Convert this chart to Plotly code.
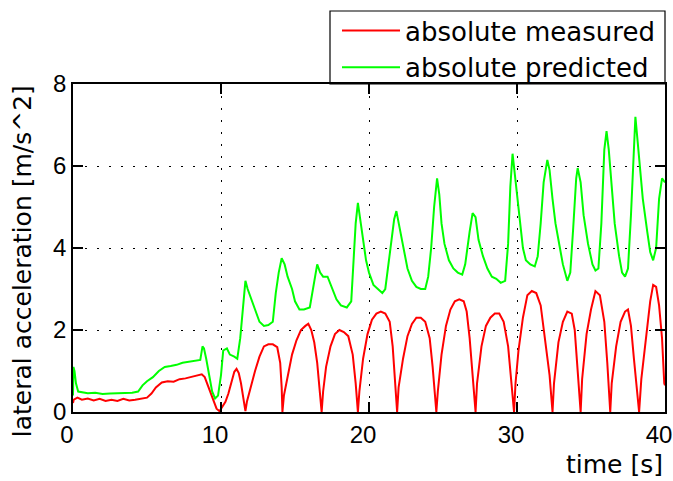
import plotly.graph_objects as go

# ---- data ----
t_measured = [0.0, 0.05, 0.3, 0.6, 1.0, 1.4, 1.8, 2.2, 2.6, 3.0, 3.4, 3.8, 4.2, 4.6, 5.0, 5.3, 5.6,
              6.0, 6.4, 6.8, 7.2, 7.6, 8.0, 8.4, 8.7, 8.9, 9.1, 9.3, 9.5, 9.7, 9.9, 10.1, 10.3, 10.5,
              10.7, 10.9, 11.05, 11.2, 11.35, 11.5, 11.65, 11.75, 12.0, 12.3, 12.6, 12.9, 13.2, 13.5,
              13.8, 14.0, 14.1, 14.15, 14.25, 14.5, 14.8, 15.1, 15.4, 15.7, 15.9, 16.1, 16.3, 16.5,
              16.7, 16.8, 16.9, 17.1, 17.4, 17.7, 18.0, 18.3, 18.6, 18.9, 19.1, 19.25, 19.35, 19.6,
              19.9, 20.2, 20.5, 20.8, 21.1, 21.4, 21.6, 21.8, 21.9, 22.0, 22.3, 22.6, 22.9, 23.2,
              23.5, 23.8, 24.1, 24.3, 24.45, 24.55, 24.65, 24.9, 25.2, 25.5, 25.8, 26.1, 26.4, 26.6,
              26.8, 27.0, 27.2, 27.3, 27.6, 27.9, 28.2, 28.5, 28.8, 29.1, 29.4, 29.6, 29.8, 29.9,
              30.1, 30.4, 30.7, 31.0, 31.3, 31.6, 31.9, 32.2, 32.4, 32.5, 32.8, 33.1, 33.4, 33.7,
              33.9, 34.1, 34.3, 34.4, 34.7, 35.0, 35.3, 35.6, 35.9, 36.1, 36.3, 36.4, 36.7, 37.0,
              37.3, 37.5, 37.7, 37.9, 38.1, 38.25, 38.4, 38.7, 39.0, 39.2, 39.4, 39.6, 39.8, 39.95, 40.0]
a_measured = [0.22, 0.3, 0.35, 0.3, 0.33, 0.28, 0.32, 0.27, 0.3, 0.27, 0.32, 0.28, 0.3, 0.33, 0.35, 0.45, 0.6,
              0.72, 0.75, 0.74, 0.8, 0.82, 0.85, 0.88, 0.92, 0.85, 0.65, 0.45, 0.25, 0.08, 0.02, 0.12, 0.25, 0.45,
              0.75, 0.98, 1.05, 0.95, 0.7, 0.35, 0.02, 0.25, 0.6, 1.0, 1.35, 1.6, 1.65, 1.65,
              1.58, 1.2, 0.6, 0.0, 0.4, 0.9, 1.4, 1.75, 2.0, 2.1, 2.15, 2.0, 1.7, 1.2,
              0.5, 0.0, 0.5, 1.1, 1.6, 1.9, 2.0, 1.95, 1.85, 1.4, 0.7, 0.0, 0.5, 1.3,
              1.9, 2.25, 2.4, 2.45, 2.4, 2.2, 1.6, 0.6, 0.0, 0.6, 1.3, 1.85, 2.15, 2.3,
              2.3, 2.2, 1.8, 1.1, 0.4, 0.0, 0.5, 1.4, 2.1, 2.5, 2.7, 2.75, 2.7, 2.45,
              1.8, 0.9, 0.0, 0.7, 1.6, 2.1, 2.3, 2.4, 2.4, 2.2, 1.6, 0.8, 0.0, 0.7,
              1.5, 2.3, 2.85, 2.95, 2.9, 2.6, 1.8, 0.9, 0.0, 0.7, 1.7, 2.2, 2.45, 2.4,
              2.0, 1.1, 0.0, 0.8, 1.9, 2.5, 2.95, 2.85, 2.2, 1.2, 0.0, 0.7, 1.6, 2.2,
              2.45, 2.5, 2.1, 1.3, 0.5, 0.0, 0.8, 1.8, 2.7, 3.1, 3.05, 2.6, 1.8, 0.7, 0.65]

t_predicted = [0.0, 0.03, 0.1, 0.2, 0.35, 0.6, 1.0, 1.5, 2.0, 2.5, 3.0, 3.5, 4.0, 4.4, 4.7, 5.0, 5.4,
               5.8, 6.2, 6.6, 7.0, 7.4, 7.8, 8.2, 8.6, 8.75, 8.85, 9.0, 9.2, 9.4, 9.6, 9.8, 10.0,
               10.15, 10.4, 10.6, 10.9, 11.1, 11.3, 11.5, 11.65, 11.8, 12.0, 12.3, 12.6, 12.9, 13.2,
               13.5, 13.7, 13.9, 14.1, 14.3, 14.5, 14.8, 15.0, 15.3, 15.6, 16.0, 16.3, 16.5, 16.7,
               16.9, 17.2, 17.5, 17.8, 18.1, 18.5, 18.8, 18.95, 19.1, 19.25, 19.4, 19.6, 19.8, 20.0,
               20.3, 20.6, 20.9, 21.1, 21.3, 21.5, 21.7, 21.85, 22.0, 22.3, 22.6, 22.9, 23.2, 23.5,
               23.8, 24.0, 24.2, 24.4, 24.6, 24.75, 24.9, 25.1, 25.4, 25.7, 26.0, 26.3, 26.5, 26.8,
               27.0, 27.2, 27.4, 27.7, 28.0, 28.3, 28.6, 28.9, 29.2, 29.4, 29.55, 29.7, 29.85, 30.0,
               30.2, 30.4, 30.6, 30.9, 31.2, 31.4, 31.6, 31.8, 32.05, 32.2, 32.4, 32.6, 32.9, 33.1,
               33.4, 33.6, 33.8, 34.0, 34.1, 34.3, 34.5, 34.8, 35.1, 35.3, 35.5, 35.7, 35.9, 36.05,
               36.2, 36.4, 36.6, 36.9, 37.1, 37.3, 37.5, 37.7, 37.9, 38.0, 38.15, 38.3, 38.5, 38.8,
               39.0, 39.2, 39.4, 39.6, 39.8, 40.0]
a_predicted = [0.4, 1.1, 1.0, 0.7, 0.5, 0.48, 0.46, 0.47, 0.44, 0.45, 0.46, 0.47, 0.47, 0.5, 0.65, 0.75, 0.85,
               1.0, 1.1, 1.12, 1.15, 1.2, 1.22, 1.25, 1.27, 1.6, 1.55, 1.3, 0.9, 0.5, 0.33, 0.4, 0.9,
               1.5, 1.55, 1.4, 1.35, 1.3, 1.8, 2.6, 3.2, 3.0, 2.8, 2.5, 2.2, 2.1, 2.12,
               2.2, 2.9, 3.4, 3.75, 3.6, 3.3, 3.0, 2.7, 2.5, 2.5, 2.55, 3.2, 3.6, 3.4,
               3.3, 3.3, 3.0, 2.75, 2.6, 2.55, 2.7, 3.8, 4.6, 5.1, 4.7, 4.2, 3.7, 3.4,
               3.1, 3.0, 2.9, 3.0, 3.6, 4.2, 4.7, 4.9, 4.6, 4.0, 3.5, 3.2, 3.05, 3.0,
               3.0, 3.3, 4.0, 5.0, 5.7, 5.3, 4.6, 4.1, 3.7, 3.5, 3.4, 3.35, 3.6, 4.4,
               4.85, 4.75, 4.2, 3.8, 3.5, 3.3, 3.25, 3.15, 3.2, 4.1, 5.5, 6.3, 5.8, 5.2,
               4.6, 4.0, 3.7, 3.6, 3.55, 3.8, 4.6, 5.6, 6.15, 5.9, 5.2, 4.6, 4.0, 3.6,
               3.2, 3.4, 4.5, 5.7, 5.95, 5.6, 4.8, 4.1, 3.6, 3.45, 3.5, 4.6, 6.4, 6.85,
               6.4, 5.4, 4.6, 3.8, 3.4, 3.3, 3.5, 4.8, 6.5, 7.2, 6.6, 6.0, 5.2, 4.4,
               3.9, 3.7, 4.0, 5.2, 5.7, 5.6]

x_ticks = [0, 10, 20, 30, 40]
y_ticks = [0, 2, 4, 6, 8]

TXT = "DejaVu Sans"
TICK = "Liberation Sans"

# plot area in pixels (for placing the legend frame)
W, H = 673, 481
ML, MR, MT, MB = 73, 8, 84, 69
PW, PH = W - ML - MR, H - MT - MB

fig = go.Figure()
fig.add_trace(go.Scatter(x=t_measured, y=a_measured, mode="lines", name="absolute measured",
                         line=dict(color="#ff0000", width=2)))
fig.add_trace(go.Scatter(x=t_predicted, y=a_predicted, mode="lines", name="absolute predicted",
                         line=dict(color="#00ff00", width=2)))

axis_common = dict(
    showline=True, linecolor="black", linewidth=1.5, mirror="ticks",
    ticks="inside", ticklen=10, tickwidth=1.5, tickcolor="black",
    showgrid=True, gridcolor="black", gridwidth=1, griddash="2px,10px",
    zeroline=False, tickfont=dict(family=TICK, size=24, color="black"),
    ticklabeloverflow="allow", automargin=False,
)

fig.update_xaxes(range=[0, 40], tickvals=x_ticks, ticklabelshift=-6, **axis_common)
fig.update_yaxes(range=[0, 8], tickvals=y_ticks, **axis_common)

fig.update_layout(
    width=W, height=H,
    margin=dict(l=ML, r=MR, t=MT, b=MB, autoexpand=False),
    plot_bgcolor="white", paper_bgcolor="white",
    showlegend=True,
    legend=dict(x=1 - 5 / PW, xanchor="right", y=1 - 7 / PH, yanchor="bottom",
                borderwidth=0, bgcolor="rgba(0,0,0,0)",
                font=dict(family=TXT, size=26, color="black"),
                itemwidth=58, tracegroupgap=0),
    shapes=[
        dict(type="rect", xref="paper", yref="paper",
             x0=(330 - ML) / PW, x1=1, y0=1, y1=1 + 73 / PH,
             line=dict(color="black", width=1.2), fillcolor="rgba(0,0,0,0)", layer="above"),
    ],
    annotations=[
        dict(text="time [s]", xref="paper", yref="paper", x=1, y=0, xanchor="right",
             yanchor="middle", yshift=-52, showarrow=False,
             font=dict(family=TXT, size=25, color="black")),
        dict(text="lateral acceleration [m/s^2]", xref="paper", yref="paper",
             x=-0.086, y=0.46, xanchor="center", yanchor="middle", textangle=-90,
             showarrow=False, font=dict(family=TXT, size=25, color="black")),
    ],
)

fig.write_html("out.html")
